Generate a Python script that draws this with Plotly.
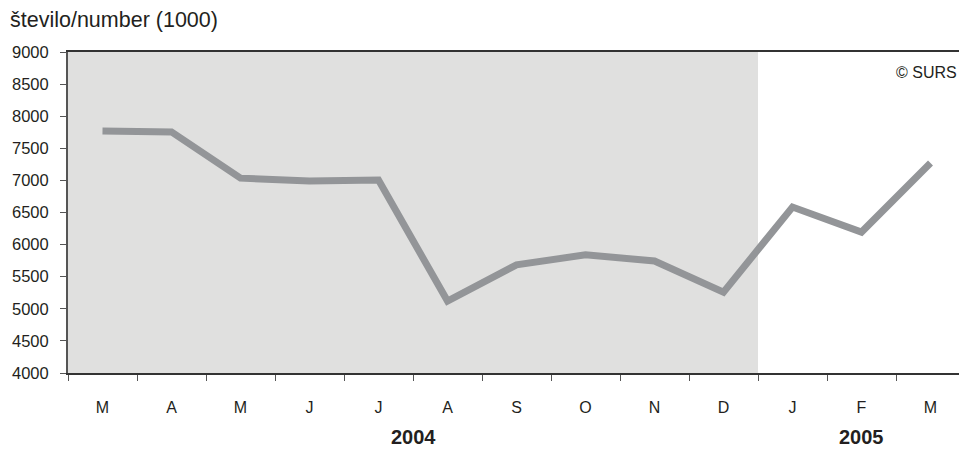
import plotly.graph_objects as go

months = ["M", "A", "M", "J", "J", "A", "S", "O", "N", "D", "J", "F", "M"]
values = [7770, 7755, 7035, 6990, 7005, 5120, 5685, 5840, 5745, 5260, 6585, 6195, 7270]
years = ["2004", "2005"]
year_pos = [4.5, 11]
yticks = [4000, 4500, 5000, 5500, 6000, 6500, 7000, 7500, 8000, 8500, 9000]

x = list(range(len(months)))
FONT = "Arial, Liberation Sans, sans-serif"
TXT = "#231f20"

fig = go.Figure()
fig.add_trace(go.Scatter(x=x, y=values, mode="lines",
                         line=dict(color="#939598", width=7),
                         hoverinfo="skip", showlegend=False))

# shaded 2004 region
fig.add_shape(type="rect", xref="x", yref="paper", x0=-0.5, x1=9.5, y0=0, y1=1,
              fillcolor="#e0e0df", line=dict(width=0), layer="below")

for yr, p in zip(years, year_pos):
    fig.add_annotation(text="<b>" + yr + "</b>", x=p, xref="x", y=-0.2, yref="paper",
                       yanchor="middle", showarrow=False,
                       font=dict(size=20, color=TXT, family=FONT))

fig.add_annotation(text="© SURS", x=1, xref="paper", xanchor="right", y=0.935, yref="paper",
                   yanchor="middle", showarrow=False,
                   font=dict(size=16, color=TXT, family=FONT))

fig.update_layout(
    width=959, height=449,
    margin=dict(l=68, r=0, t=52, b=76),
    paper_bgcolor="white", plot_bgcolor="white",
    font=dict(family=FONT, color=TXT, size=16),
    title=dict(text="število/number (1000)", x=10/959, xanchor="left", xref="container",
               y=1 - 19/449, yanchor="middle", yref="container",
               font=dict(size=21.5, color=TXT, family=FONT)),
    xaxis=dict(range=[-0.5, -0.5 + 891/69], tickvals=x, ticktext=months,
               ticks="", showgrid=False, zeroline=False,
               showline=True, linecolor="#333333", linewidth=2, mirror=True,
               ticklabelstandoff=19, tickfont=dict(size=16),
               minor=dict(tick0=-0.5, dtick=1, ticks="outside", ticklen=6,
                          tickcolor="#555555", tickwidth=1, showgrid=False)),
    yaxis=dict(range=[4000, 9000], tickvals=yticks, ticks="outside", ticklen=6,
               tickcolor="#555555", showgrid=False, zeroline=False,
               showline=True, linecolor="#555555", linewidth=2,
               ticklabelstandoff=8, tickfont=dict(size=16.5)),
)

fig.write_html("out.html", config={"displayModeBar": False},
               post_script="document.body.style.margin='0';")
